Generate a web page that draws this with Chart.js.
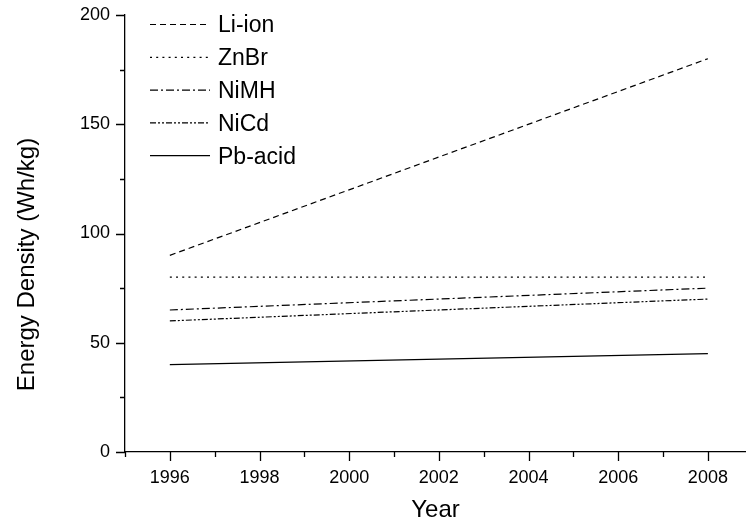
<!DOCTYPE html>
<html>
<head>
<meta charset="utf-8">
<script src="https://cdn.jsdelivr.net/npm/chart.js@4"></script>
<style>
  html, body { margin: 0; padding: 0; background: #fff; }
  #wrap { width: 746px; height: 526px; }
</style>
</head>
<body>
<div id="wrap"><canvas id="chart"></canvas></div>
<script>
// battery energy density, 1996 -> 2008
const years = [1996, 2008]
const liIon = [90, 180]
const znBr = [80, 80]
const niMH = [65, 75]
const niCd = [60, 70]
const pbAcid = [40, 45]

const seriesNames = ['Li-ion', 'ZnBr', 'NiMH', 'NiCd', 'Pb-acid']
const seriesValues = [liIon, znBr, niMH, niCd, pbAcid]
const dashes = [[6, 4], [2, 4.2], [8, 3, 2, 3], [6, 2, 2, 2, 2, 2], []]

const xTicks = [1995, 1996, 1997, 1998, 1999, 2000, 2001, 2002, 2003, 2004, 2005, 2006, 2007, 2008]
const yTicks = [0, 25, 50, 75, 100, 125, 150, 175, 200]

const FONT = 'Arial, "Liberation Sans", sans-serif'

const datasets = seriesNames.map((name, i) => ({
  label: name,
  data: years.map((yr, j) => ({ x: yr, y: seriesValues[i][j] })),
  borderColor: '#000',
  borderWidth: 1.2,
  borderDash: dashes[i],
  pointRadius: 0,
  fill: false
}))

// tick marks: long on labelled values, short in between
const tickMarks = {
  id: 'tickMarks',
  afterDraw(chart) {
    const ctx = chart.ctx
    const xs = chart.scales.x
    const ys = chart.scales.y
    ctx.save()
    ctx.strokeStyle = '#000'
    ctx.lineWidth = 1.3
    ctx.beginPath()
    xTicks.forEach(v => {
      const px = Math.round(xs.getPixelForValue(v)) + 0.5
      const len = v % 2 === 0 ? 9 : 5
      ctx.moveTo(px, xs.top)
      ctx.lineTo(px, xs.top + len)
    })
    yTicks.forEach(v => {
      const py = Math.round(ys.getPixelForValue(v)) + 0.5
      const len = v % 50 === 0 ? 9 : 5
      ctx.moveTo(ys.right, py)
      ctx.lineTo(ys.right - len, py)
    })
    ctx.stroke()
    ctx.restore()
  }
}

// legend in the upper left of the plot, plus the rotated y title
const insideLegend = {
  id: 'insideLegend',
  afterDatasetsDraw(chart) {
    const ctx = chart.ctx
    const area = chart.chartArea
    ctx.save()
    ctx.font = '23px ' + FONT
    ctx.fillStyle = '#000'
    ctx.textBaseline = 'middle'
    chart.data.datasets.forEach((ds, i) => {
      const y = area.top + 9.5 + i * 32.8
      ctx.strokeStyle = ds.borderColor
      ctx.lineWidth = ds.borderWidth
      ctx.setLineDash(ds.borderDash)
      ctx.beginPath()
      ctx.moveTo(area.left + 25, y)
      ctx.lineTo(area.left + 85, y)
      ctx.stroke()
      ctx.setLineDash([])
      ctx.fillText(ds.label, area.left + 93, y + 1.5)
    })

    ctx.font = '24px ' + FONT
    ctx.textAlign = 'center'
    ctx.translate(27, (area.top + area.bottom) / 2 + 31)
    ctx.rotate(-Math.PI / 2)
    ctx.fillText('Energy Density (Wh/kg)', 0, 0)
    ctx.restore()
  }
}

new Chart(document.getElementById('chart'), {
  type: 'line',
  data: { datasets },
  options: {
    responsive: true,
    maintainAspectRatio: false,
    animation: false,
    layout: { padding: { top: 15, left: 0, right: 0, bottom: 0 } },
    plugins: {
      legend: { display: false },
      tooltip: { enabled: false }
    },
    scales: {
      x: {
        type: 'linear',
        min: 1995,
        max: 2008.85,
        afterBuildTicks: scale => { scale.ticks = xTicks.map(v => ({ value: v })) },
        afterFit: scale => {
          scale.height = 74
          scale.paddingLeft = 0
          scale.paddingRight = 0
        },
        grid: { display: false, drawTicks: false },
        border: { display: true, color: '#000', width: 1.3 },
        ticks: {
          autoSkip: false,
          maxRotation: 0,
          padding: 15,
          color: '#000',
          font: { family: FONT, size: 18 },
          callback: v => (v % 2 === 0 ? String(v) : '')
        },
        title: {
          display: true,
          text: 'Year',
          color: '#000',
          font: { family: FONT, size: 24 },
          padding: { top: 0, bottom: 1 }
        }
      },
      y: {
        min: 0,
        max: 200,
        afterBuildTicks: scale => { scale.ticks = yTicks.map(v => ({ value: v })) },
        afterFit: scale => {
          scale.width = 125
          scale.paddingTop = 0
          scale.paddingBottom = 0
        },
        grid: { display: false, drawTicks: false },
        border: { display: true, color: '#000', width: 1.3 },
        ticks: {
          autoSkip: false,
          padding: 15,
          color: '#000',
          font: { family: FONT, size: 18 },
          callback: v => (v % 50 === 0 ? String(v) : '')
        }
      }
    }
  },
  plugins: [tickMarks, insideLegend]
})
</script>
</body>
</html>
